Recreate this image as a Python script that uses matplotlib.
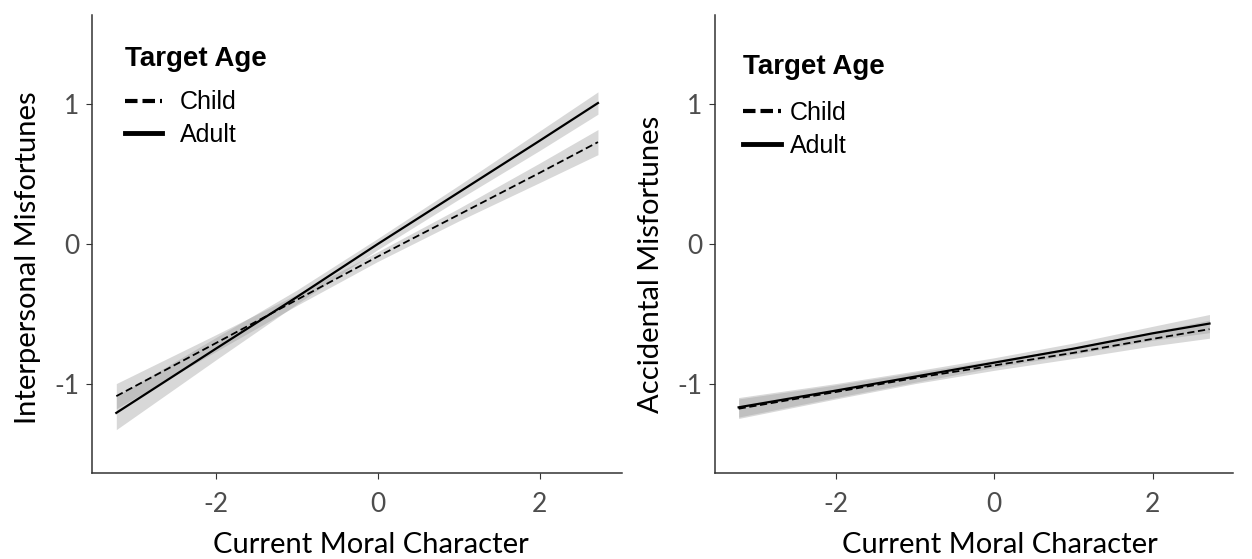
import matplotlib
matplotlib.use("Agg")
import matplotlib.pyplot as plt
from matplotlib.lines import Line2D
import numpy as np

plt.rcParams["axes.unicode_minus"] = False

# values
moral_x = [-3.23, -2.0, -1.0, 0.0, 1.0, 2.0, 2.72]

inter_child = [-1.09, -0.71, -0.40, -0.09, 0.21, 0.51, 0.73]
inter_child_se = [0.09, 0.06, 0.04, 0.035, 0.045, 0.07, 0.09]
inter_adult = [-1.21, -0.75, -0.38, 0.00, 0.37, 0.74, 1.01]
inter_adult_se = [0.12, 0.08, 0.05, 0.04, 0.05, 0.07, 0.08]

acc_child = [-1.18, -1.06, -0.96, -0.87, -0.78, -0.68, -0.61]
acc_child_se = [0.07, 0.05, 0.04, 0.035, 0.04, 0.05, 0.065]
acc_adult = [-1.17, -1.05, -0.95, -0.85, -0.75, -0.64, -0.57]
acc_adult_se = [0.07, 0.05, 0.04, 0.035, 0.04, 0.05, 0.065]

panels = [
    ("Interpersonal Misfortunes", inter_child, inter_child_se, inter_adult, inter_adult_se),
    ("Accidental Misfortunes", acc_child, acc_child_se, acc_adult, acc_adult_se),
]

fig = plt.figure(figsize=(12.52, 5.59), dpi=100)
boxes = [[0.0735, 0.154, 0.4235, 0.819], [0.571, 0.154, 0.414, 0.819]]
leg_pos = [(0.062, 0.932), (0.055, 0.915)]
leg_sep = [13, 15]
xlab_x = [0.526, 0.55]
ylab_x = [-0.097, -0.099]
ylab_y = [0.47, 0.456]
text_pad = [0.7, 0.35]

for i, (ylab, child, child_se, adult, adult_se) in enumerate(panels):
    ax = fig.add_axes(boxes[i])
    x = np.array(moral_x)
    c, cs = np.array(child), np.array(child_se)
    a, as_ = np.array(adult), np.array(adult_se)
    ax.fill_between(x, c - cs, c + cs, color="#999999", alpha=0.38, lw=0)
    ax.fill_between(x, a - as_, a + as_, color="#999999", alpha=0.38, lw=0)
    ax.plot(x, c, color="black", lw=1.3, ls=(0, (4, 2)), label="Child")
    ax.plot(x, a, color="black", lw=1.6, ls="-", label="Adult")

    ax.set_xlim(-3.53, 3.02)
    ax.set_ylim(-1.64, 1.64)
    ax.set_xticks([-2, 0, 2])
    ax.set_yticks([-1, 0, 1])
    for s in ["top", "right"]:
        ax.spines[s].set_visible(False)
    for s in ["left", "bottom"]:
        ax.spines[s].set_color("#333333")
        ax.spines[s].set_linewidth(1.1)
    ax.tick_params(length=4, color="#333333", labelsize=19, labelcolor="#4d4d4d")
    ax.tick_params(axis="x", pad=10)
    ax.tick_params(axis="y", pad=5)
    for t in ax.get_xticklabels() + ax.get_yticklabels():
        t.set_family("Lato")
    ax.set_xlabel("Current Moral Character", family="Lato", fontsize=21)
    ax.set_ylabel(ylab, family="Lato", fontsize=21)
    ax.xaxis.set_label_coords(xlab_x[i], -0.128)
    ax.yaxis.set_label_coords(ylab_x[i], ylab_y[i])

    handles = [Line2D([], [], color="black", lw=3, ls=(0, (3, 1.2))),
               Line2D([], [], color="black", lw=3.5)]
    leg = ax.legend(handles, ["Child", "Adult"], title="Target Age",
                    loc="upper left", bbox_to_anchor=leg_pos[i], frameon=False,
                    borderpad=0, borderaxespad=0,
                    prop={"family": "Liberation Sans", "size": 18},
                    title_fontproperties={"family": "Liberation Sans", "size": 20, "weight": "bold"},
                    handlelength=1.5, handletextpad=text_pad[i], labelspacing=0.35)
    leg._legend_box.align = "left"
    leg._legend_box.sep = leg_sep[i]

fig.savefig("out.png", dpi=100)
